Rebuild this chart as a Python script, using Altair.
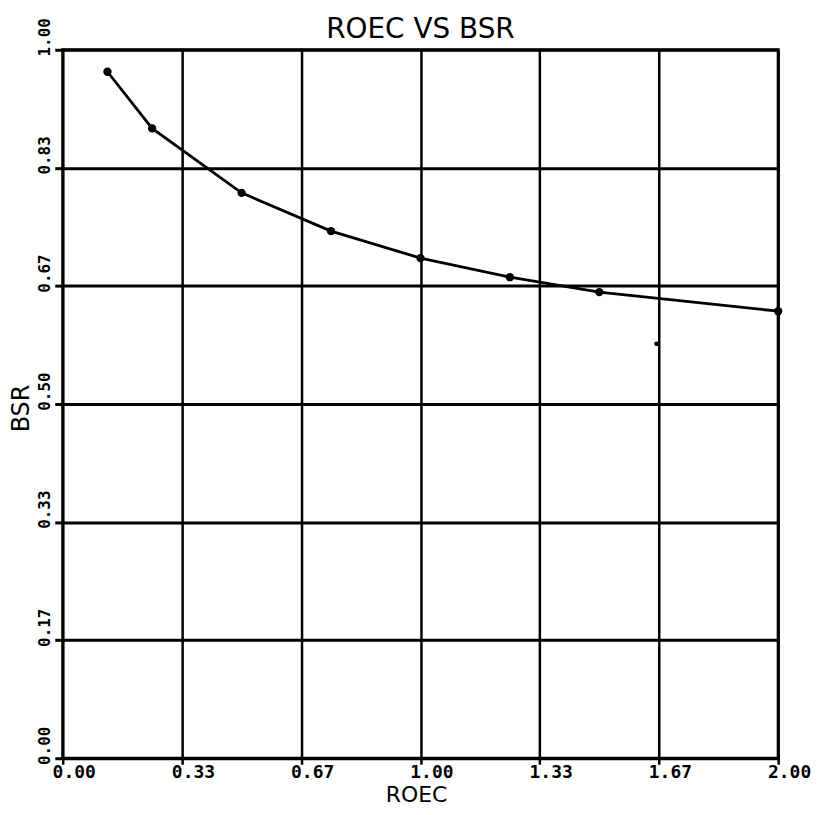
import altair as alt
import pandas as pd

# ROEC (x) and BSR (y)
roec = [0.125, 0.25, 0.5, 0.75, 1.0, 1.25, 1.5, 2.0]
bsr = [0.969, 0.889, 0.798, 0.744, 0.706, 0.679, 0.658, 0.631]

# stray isolated mark visible on the plot
stray_roec = [1.66]
stray_bsr = [0.585]

x_ticks = [0.0, 1 / 3, 2 / 3, 1.0, 4 / 3, 5 / 3, 2.0]
y_ticks = [0.0, 1 / 6, 2 / 6, 3 / 6, 4 / 6, 5 / 6, 1.0]

df = pd.DataFrame({"ROEC": roec, "BSR": bsr})
df_stray = pd.DataFrame({"ROEC": stray_roec, "BSR": stray_bsr})

x_enc = alt.X(
    "ROEC:Q",
    scale=alt.Scale(domain=[0, 2], nice=False, zero=False),
    axis=alt.Axis(
        title="ROEC",
        values=x_ticks,
        format=".2f",
        grid=True,
        gridColor="black",
        gridWidth=2.5,
        gridOpacity=1,
        domain=False,
        ticks=True,
        tickColor="black",
        tickWidth=2.5,
        tickSize=6,
        labelFont="DejaVu Sans Mono",
        labelFontWeight="bold",
        labelFontSize=18,
        labelColor="black",
        labelAlign="center",
        labelBaseline="alphabetic",
        labelPadding=13,
        labelOffset=11,
        labelFlush=False,
        labelOverlap=False,
        titleFont="DejaVu Sans",
        titleFontSize=22,
        titleFontWeight="normal",
        titleColor="black",
        titleBaseline="alphabetic",
        titleAlign="center",
        titleX=355,
        titleY=43,
    ),
)

y_enc = alt.Y(
    "BSR:Q",
    scale=alt.Scale(domain=[0, 1], nice=False, zero=False),
    axis=alt.Axis(
        title="BSR",
        values=y_ticks,
        format=".2f",
        grid=True,
        gridColor="black",
        gridWidth=3,
        gridOpacity=1,
        domain=False,
        ticks=True,
        tickColor="black",
        tickWidth=3,
        tickSize=8,
        labelFont="DejaVu Sans Mono",
        labelFontWeight="bold",
        labelFontSize=16,
        labelColor="black",
        labelAngle=270,
        labelAlign="center",
        labelBaseline="alphabetic",
        labelPadding=5,
        labelOffset=-13,
        labelFlush=False,
        labelOverlap=False,
        titleFont="DejaVu Sans",
        titleFontSize=24,
        titleFontWeight="normal",
        titleColor="black",
        titleAngle=270,
        titleBaseline="alphabetic",
        titleAlign="center",
        titleX=-34,
        titleY=360,
    ),
)

line = alt.Chart(df).mark_line(color="black", strokeWidth=2.8).encode(x=x_enc, y=y_enc)
pts = alt.Chart(df).mark_point(filled=True, color="black", size=70, opacity=1).encode(x=x_enc, y=y_enc)
stray = alt.Chart(df_stray).mark_point(filled=True, color="black", size=22, opacity=1).encode(
    x="ROEC:Q", y="BSR:Q"
)

chart = (
    alt.layer(line, pts, stray)
    .properties(
        width=719,
        height=712,
        title=alt.TitleParams(
            "ROEC VS BSR",
            font="DejaVu Sans",
            fontSize=28,
            fontWeight="normal",
            color="black",
            anchor="middle",
            frame="group",
            baseline="alphabetic",
            offset=-48,
        ),
        autosize=alt.AutoSizeParams(type="none"),
        padding={"left": 55, "top": 40, "right": 36, "bottom": 47},
        background="white",
    )
    .configure_view(stroke="black", strokeWidth=3)
)

chart.save("out.html", embed_options={"renderer": "svg", "actions": False})
